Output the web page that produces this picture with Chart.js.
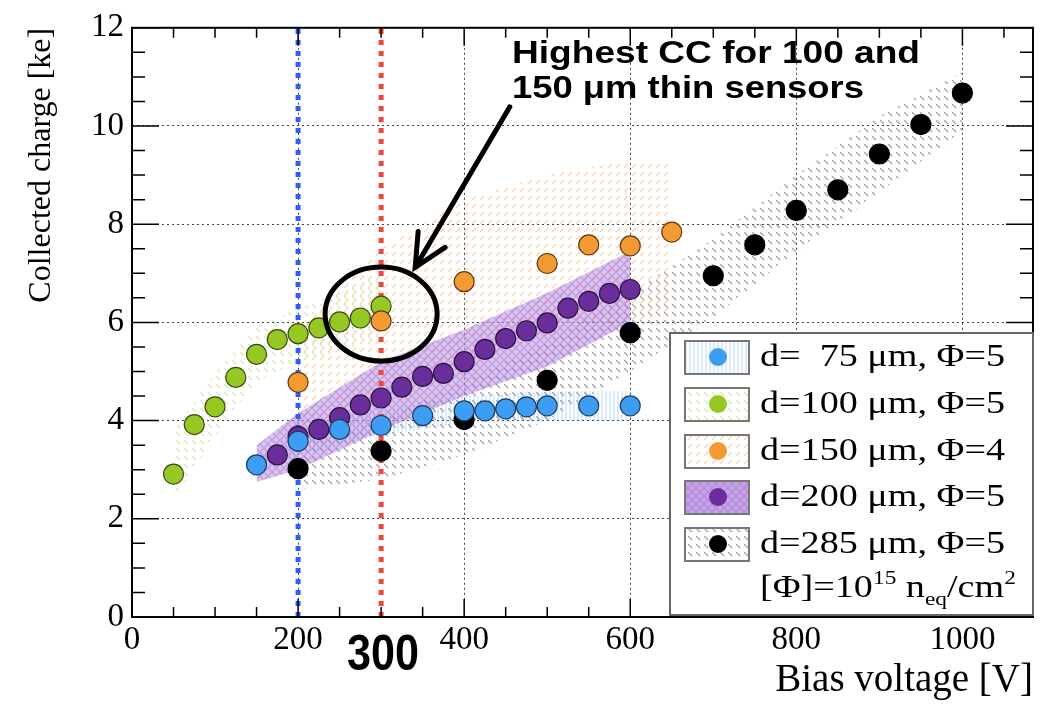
<!DOCTYPE html>
<html>
<head>
<meta charset="utf-8">
<script src="https://cdn.jsdelivr.net/npm/chart.js@4.4.0/dist/chart.umd.min.js"></script>
<style>
  html, body { margin: 0; padding: 0; background: #fff; }
  #wrap { width: 1048px; height: 704px; position: relative; }
</style>
</head>
<body>
<div id="wrap"><canvas id="cc"></canvas></div>
<script>
// collected charge [ke] vs bias voltage [V], one pair of arrays per sensor thickness
const v75 = [150, 200, 250, 300, 350, 400, 425, 450, 475, 500, 550, 600];
const cc75 = [3.10, 3.58, 3.82, 3.90, 4.10, 4.20, 4.20, 4.24, 4.28, 4.30, 4.30, 4.30];
const v100 = [50, 75, 100, 125, 150, 175, 200, 225, 250, 275, 300];
const cc100 = [2.91, 3.92, 4.28, 4.88, 5.35, 5.65, 5.77, 5.89, 6.01, 6.09, 6.33];
const v150 = [200, 300, 400, 500, 550, 600, 650];
const cc150 = [4.78, 6.03, 6.83, 7.20, 7.58, 7.56, 7.84];
const v200 = [175, 200, 225, 250, 275, 300, 325, 350, 375, 400, 425, 450, 475, 500, 525, 550, 575, 600];
const cc200 = [3.30, 3.68, 3.82, 4.06, 4.32, 4.46, 4.68, 4.90, 4.96, 5.20, 5.45, 5.67, 5.83, 5.99, 6.29, 6.43, 6.59, 6.67];
const v285 = [200, 300, 400, 500, 600, 700, 750, 800, 850, 900, 950, 1000];
const cc285 = [3.02, 3.38, 4.02, 4.82, 5.79, 6.95, 7.58, 8.28, 8.70, 9.43, 10.03, 10.67];

// uncertainty bands (lower / upper edge)
const bv75 = [150, 200, 300, 400, 500, 600];
const lo75 = [2.90, 3.30, 3.70, 3.95, 4.00, 4.00];
const hi75 = [3.30, 3.85, 4.20, 4.50, 4.60, 4.60];
const bv100 = [50, 100, 150, 200, 250, 300];
const lo100 = [2.40, 3.70, 4.80, 5.20, 5.40, 5.70];
const hi100 = [3.80, 5.00, 5.90, 6.30, 6.60, 7.00];
const bv150 = [200, 300, 400, 500, 600, 650];
const lo150 = [3.80, 4.50, 5.20, 5.70, 6.00, 6.20];
const hi150 = [5.90, 7.50, 8.50, 9.00, 9.30, 9.30];
const bv200 = [150, 200, 300, 400, 500, 600];
const lo200 = [2.75, 3.00, 3.80, 4.50, 5.10, 6.00];
const hi200 = [3.50, 4.15, 5.20, 5.85, 6.60, 7.45];
const bv285 = [200, 300, 400, 500, 600, 700, 800, 900, 1000];
const lo285 = [2.60, 2.80, 3.30, 4.00, 5.00, 6.10, 7.45, 8.65, 9.90];
const hi285 = [3.50, 4.00, 4.80, 5.60, 6.60, 7.70, 9.00, 10.20, 11.10];

const refV = [200, 300];
const legendLabels = ['d=  75 \u03bcm, \u03a6=5', 'd=100 \u03bcm, \u03a6=5', 'd=150 \u03bcm, \u03a6=4', 'd=200 \u03bcm, \u03a6=5', 'd=285 \u03bcm, \u03a6=5'];
const xTicks = [0, 200, 400, 600, 800, 1000];
const yTicks = [0, 2, 4, 6, 8, 10, 12];
const X_MAX = 1085;

const canvas = document.getElementById('cc');
const mainCtx = canvas.getContext('2d');

function hatch(color, kind, bg) {
  const c = document.createElement('canvas');
  c.width = 8; c.height = 8;
  const g = c.getContext('2d');
  if (bg) { g.fillStyle = bg; g.fillRect(0, 0, 8, 8); }
  g.strokeStyle = color;
  g.lineWidth = 1.4;
  g.beginPath();
  if (kind === 'fwd') { g.moveTo(0, 8); g.lineTo(4, 4); }
  else if (kind === 'back') { g.moveTo(0, 0); g.lineTo(4, 4); }
  else if (kind === 'vert') { g.moveTo(2, 0); g.lineTo(2, 8); g.moveTo(6, 0); g.lineTo(6, 8); }
  else if (kind === 'cross') { g.moveTo(0, 0); g.lineTo(8, 8); g.moveTo(8, 0); g.lineTo(0, 8); }
  g.stroke();
  return mainCtx.createPattern(c, 'repeat');
}

const series = [
  { v: v75, cc: cc75, bv: bv75, lo: lo75, hi: hi75, fill: '#3d9df2', edge: '#1d3d60',
    pat: hatch('rgba(110,170,240,0.35)', 'vert'), order: 2 },
  { v: v100, cc: cc100, bv: bv100, lo: lo100, hi: hi100, fill: '#96c823', edge: '#3b4c12',
    pat: hatch('rgba(150,200,60,0.35)', 'back'), order: 1 },
  { v: v150, cc: cc150, bv: bv150, lo: lo150, hi: hi150, fill: '#f39a33', edge: '#5c3a12',
    pat: hatch('rgba(245,160,80,0.45)', 'fwd'), order: 0 },
  { v: v200, cc: cc200, bv: bv200, lo: lo200, hi: hi200, fill: '#6a2e9a', edge: '#2a1040',
    pat: hatch('rgba(150,90,200,0.35)', 'cross', 'rgba(190,150,225,0.55)'), order: 3 },
  { v: v285, cc: cc285, bv: bv285, lo: lo285, hi: hi285, fill: '#000000', edge: '#000000',
    pat: hatch('rgba(110,110,110,0.6)', 'back'), order: 4 }
];

const pts = (xs, ys) => xs.map((x, i) => ({ x: x, y: ys[i] }));

const datasets = [];
// bands: black first (bottom), purple last
[4, 2, 1, 0, 3].forEach((k, j) => {
  const s = series[k];
  datasets.push({ type: 'line', data: pts(s.bv, s.hi), borderWidth: 0, pointRadius: 0,
    backgroundColor: s.pat, fill: '+1', order: 20 - j });
  datasets.push({ type: 'line', data: pts(s.bv, s.lo), borderWidth: 0, pointRadius: 0,
    fill: false, order: 20 - j });
});
// dotted reference lines
['#2f5cff', '#f0463c'].forEach((col, i) => {
  datasets.push({ type: 'line', data: [{ x: refV[i], y: 0 }, { x: refV[i], y: 12 }],
    borderColor: col, borderWidth: 5, borderDash: [5, 6], pointRadius: 0, fill: false, order: 10 });
});
series.forEach(s => {
  datasets.push({ type: 'scatter', data: pts(s.v, s.cc), pointRadius: 10, pointHoverRadius: 10,
    backgroundColor: s.fill, borderColor: s.edge, borderWidth: 1.2, showLine: false, order: s.order });
});

const serif = 'Liberation Serif, Times New Roman, serif';
const sans = 'Liberation Sans, Arial, sans-serif';

const framePlugin = {
  id: 'frame',
  afterDraw(chart) {
    const { ctx, chartArea: a, scales: { x, y } } = chart;
    ctx.save();
    ctx.strokeStyle = '#000';
    ctx.lineWidth = 1.5;
    ctx.beginPath();
    for (let v = 0; v <= X_MAX; v += 50) {
      const px = x.getPixelForValue(v);
      const len = v % 200 === 0 ? 18 : 10;
      ctx.moveTo(px, a.bottom); ctx.lineTo(px, a.bottom - len);
      ctx.moveTo(px, a.top); ctx.lineTo(px, a.top + len);
    }
    for (let v = 0; v <= 12; v += 0.5) {
      const py = y.getPixelForValue(v);
      const len = v % 2 === 0 ? 27 : 13;
      ctx.moveTo(a.left, py); ctx.lineTo(a.left + len, py);
      ctx.moveTo(a.right, py); ctx.lineTo(a.right - len, py);
    }
    ctx.stroke();
    ctx.lineWidth = 2;
    ctx.strokeRect(a.left, a.top, a.right - a.left, a.bottom - a.top);
    ctx.restore();
  }
};

function stretchedText(ctx, text, x, y, width) {
  const w = ctx.measureText(text).width;
  ctx.save();
  ctx.translate(x, y);
  ctx.scale(width / w, 1);
  ctx.fillText(text, 0, 0);
  ctx.restore();
}

const notesPlugin = {
  id: 'notes',
  afterDraw(chart) {
    const { ctx, scales: { x, y } } = chart;
    ctx.save();
    ctx.fillStyle = '#000';
    ctx.strokeStyle = '#000';

    // circle around the 300 V points
    ctx.lineWidth = 5;
    ctx.beginPath();
    ctx.ellipse(x.getPixelForValue(300), y.getPixelForValue(6.17), 56, 47, 0, 0, Math.PI * 2);
    ctx.stroke();

    // arrow
    const tx = x.getPixelForValue(341), ty = y.getPixelForValue(7.12);
    const sx = x.getPixelForValue(455), sy = y.getPixelForValue(10.39);
    const ang = Math.atan2(sy - ty, sx - tx);
    ctx.lineCap = 'round';
    ctx.beginPath();
    ctx.moveTo(sx, sy); ctx.lineTo(tx, ty);
    ctx.moveTo(tx + 36 * Math.cos(ang - 0.45), ty + 36 * Math.sin(ang - 0.45));
    ctx.lineTo(tx, ty);
    ctx.lineTo(tx + 36 * Math.cos(ang + 0.45), ty + 36 * Math.sin(ang + 0.45));
    ctx.stroke();

    // annotation
    ctx.font = 'bold 32px ' + sans;
    ctx.textBaseline = 'alphabetic';
    stretchedText(ctx, 'Highest CC for 100 and', 512, 63, 408);
    stretchedText(ctx, '150 \u03bcm thin sensors', 512, 98, 352);
    ctx.font = 'bold 50px ' + sans;
    stretchedText(ctx, '300', 347, 670, 72);

    // legend
    const L = 670, T = 333, R = 1033, B = 615;
    ctx.fillStyle = '#fff';
    ctx.fillRect(L, T, R - L, B - T);
    ctx.lineWidth = 2;
    ctx.strokeStyle = '#666';
    ctx.strokeRect(L, T, R - L, B - T);
    const rows = [357, 404, 451, 497, 544];
    ctx.font = '31px ' + serif;
    const scaleX = 245 / ctx.measureText(legendLabels[0]).width;
    rows.forEach((cy, i) => {
      const s = series[i];
      ctx.fillStyle = i === 3 ? 'rgba(190,150,225,0.7)' : '#fff';
      ctx.fillRect(685, cy - 16, 64, 33);
      ctx.fillStyle = s.pat;
      ctx.fillRect(685, cy - 16, 64, 33);
      ctx.strokeStyle = '#777';
      ctx.lineWidth = 2;
      ctx.strokeRect(685, cy - 16, 64, 33);
      ctx.fillStyle = s.fill;
      ctx.beginPath();
      ctx.arc(718, cy, 9, 0, Math.PI * 2);
      ctx.fill();
      ctx.fillStyle = '#000';
      ctx.save();
      ctx.translate(760, cy + 9);
      ctx.scale(scaleX, 1);
      ctx.fillText(legendLabels[i], 0, 0);
      ctx.restore();
    });
    // footnote [Φ]=10^15 n_eq/cm^2
    const parts = [['[\u03a6]=10', 0, 31], ['15', -13, 19], [' n', 0, 31], ['eq', 8, 19], ['/cm', 0, 31], ['2', -13, 19]];
    ctx.save();
    ctx.translate(760, 597);
    ctx.scale(scaleX, 1);
    let cx = 0;
    parts.forEach(p => {
      ctx.font = p[2] + 'px ' + serif;
      ctx.fillText(p[0], cx, p[1]);
      cx += ctx.measureText(p[0]).width;
    });
    ctx.restore();
    ctx.restore();
  }
};

new Chart(canvas, {
  type: 'scatter',
  data: { datasets: datasets },
  options: {
    responsive: true,
    maintainAspectRatio: false,
    animation: false,
    layout: { padding: { top: 20, right: 15, left: 0, bottom: 0 } },
    plugins: { legend: { display: false }, tooltip: { enabled: false } },
    scales: {
      x: {
        type: 'linear', min: 0, max: X_MAX,
        afterBuildTicks: s => { s.ticks = xTicks.map(v => ({ value: v })); },
        afterFit: s => { s.height = 87; },
        ticks: { font: { family: serif, size: 33 }, color: '#000', padding: 4, maxRotation: 0, autoSkip: false,
          callback: v => String(v) },
        grid: { color: c => (c.tick && c.tick.value === 0) ? 'rgba(0,0,0,0)' : '#444', lineWidth: 1, drawTicks: false },
        border: { display: false, dash: [2, 3] },
        title: { display: true, text: 'Bias voltage [V]', align: 'end', color: '#000',
          font: { family: serif, size: 39 }, padding: 0 }
      },
      y: {
        type: 'linear', min: 0, max: 12,
        afterBuildTicks: s => { s.ticks = yTicks.map(v => ({ value: v })); },
        afterFit: s => { s.width = 132; },
        ticks: { font: { family: serif, size: 33 }, color: '#000', padding: 8, callback: v => String(v) },
        grid: { color: c => (c.tick && (c.tick.value === 0 || c.tick.value === 12)) ? 'rgba(0,0,0,0)' : '#444', lineWidth: 1, drawTicks: false },
        border: { display: false, dash: [2, 3] },
        title: { display: true, text: 'Collected charge [ke]', align: 'end', color: '#000',
          font: { family: serif, size: 32 }, padding: { top: 22, bottom: 0 } }
      }
    }
  },
  plugins: [framePlugin, notesPlugin]
});
</script>
</body>
</html>
